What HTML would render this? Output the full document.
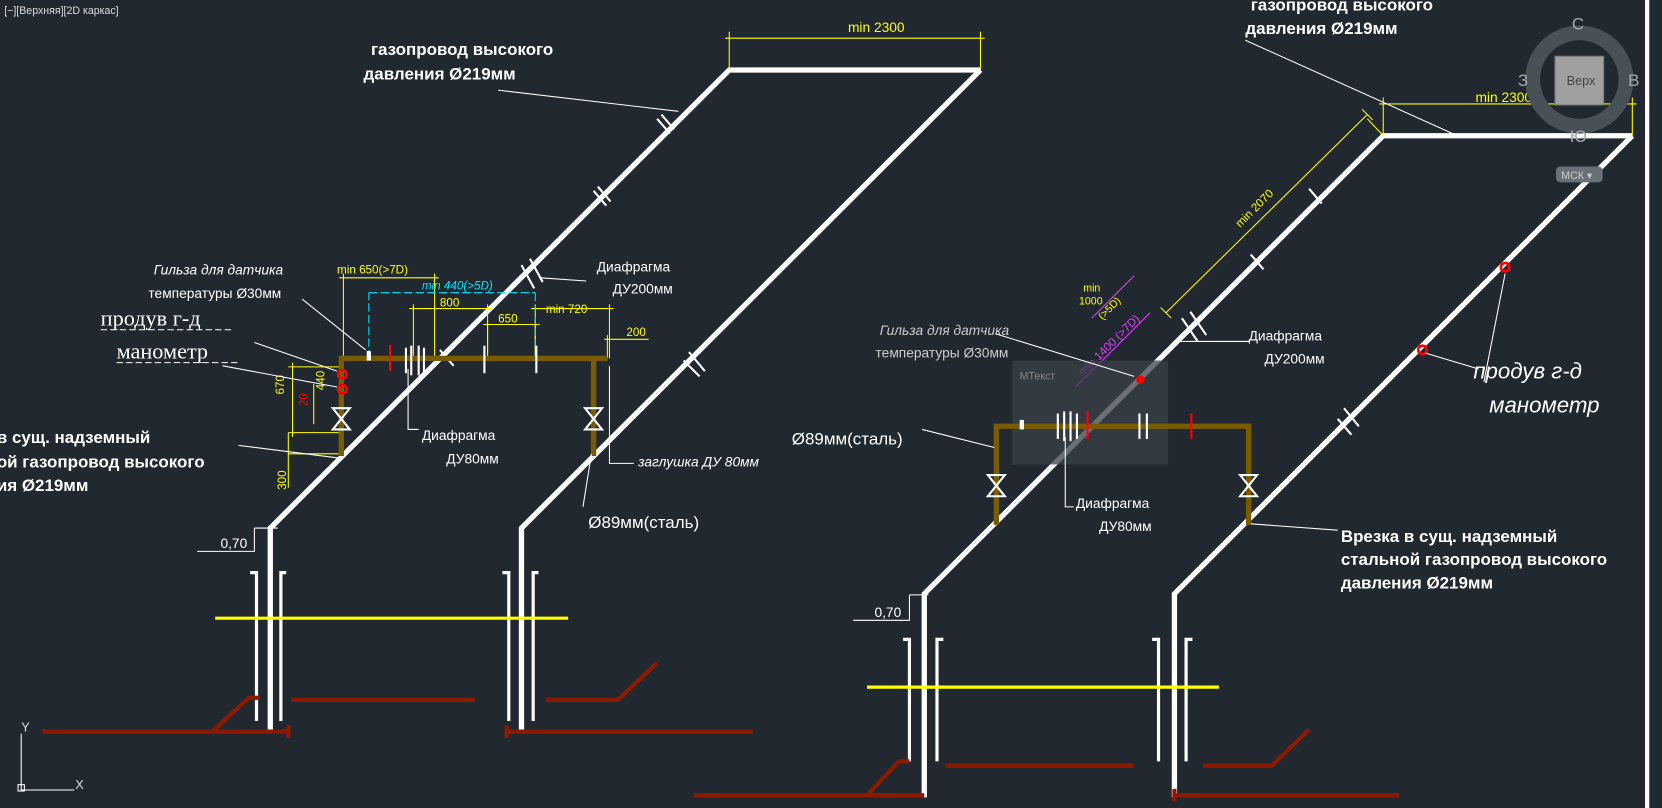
<!DOCTYPE html>
<html><head><meta charset="utf-8"><style>
html,body{margin:0;padding:0;background:#212830;overflow:hidden}
svg{display:block}
text{font-family:"Liberation Sans",sans-serif;fill:#fff}
.b{font-weight:bold;font-size:16px}
.y{fill:#ffff00;font-size:11px}
.w13{font-size:13px}
.it{font-style:italic}
.ser{font-family:"Liberation Serif",serif;font-size:21px}
</style></head><body>
<svg width="1662" height="808" viewBox="0 0 1568 762" preserveAspectRatio="none" xmlns="http://www.w3.org/2000/svg">
<rect width="1568" height="762" fill="#212830"/>
<text x="4" y="13" style="font-size:10px;fill:#ddd">[−][Верхняя][2D каркас]</text>

<!-- LEFT -->
<g fill="none" stroke="#fff" stroke-width="5" stroke-linejoin="miter">
<path d="M255,690 V498 L688,66 H925"/>
<path d="M492,690 V498 L925,66"/>
</g>
<g stroke="#fff" stroke-width="2">
<line x1="620" y1="112" x2="632" y2="126"/><line x1="624" y1="108" x2="636" y2="122"/>
<line x1="560" y1="180" x2="572" y2="194"/><line x1="564" y1="176" x2="576" y2="190"/>
<line x1="492" y1="250" x2="504" y2="272"/><line x1="500" y1="244" x2="512" y2="266"/>
<line x1="645" y1="340" x2="660" y2="355"/><line x1="650" y1="332" x2="665" y2="350"/>
<line x1="415" y1="330" x2="428" y2="345"/>
</g>
<g stroke="#ffff00" stroke-width="1" fill="none">
<path d="M688,66 V30 M925,66 V30 M684,36 H929"/>
<path d="M324,338 V258 M410,338 V258 M320,262 H414"/>
<path d="M390,338 V287 M460,338 V287 M386,291 H464"/>
<path d="M460,338 V302 M505,338 V302 M456,306 H509"/>
<path d="M505,338 V287 M575,338 V287 M501,291 H579"/>
<path d="M573,338 V316 M612,320 H570"/>
<path d="M272,346 H322 M272,408 H322 M276,342 V412 M296,362 V400 M272,408 V460 M272,428 H322"/>
</g>
<path d="M348,338 V276 M348,276 H505 M505,276 V338" stroke="#00e5ff" stroke-width="1" fill="none" stroke-dasharray="8,3"/>
<text x="800" y="30" class="y" style="font-size:13px">min 2300</text>
<text x="318" y="258" class="y">min 650(&gt;7D)</text>
<text x="398" y="273" style="fill:#00e5ff;font-size:11px;font-style:italic">min 440(&gt;5D)</text>
<text x="415" y="289" class="y">800</text>
<text x="470" y="304" class="y">650</text>
<text x="515" y="295" class="y">min 720</text>
<text x="591" y="317" class="y">200</text>
<text x="268" y="372" class="y" transform="rotate(-90 268 372)">670</text>
<text x="306" y="368" class="y" transform="rotate(-90 306 368)">440</text>
<text x="290" y="383" style="fill:red;font-size:11px" transform="rotate(-90 290 383)">20</text>
<text x="270" y="462" class="y" transform="rotate(-90 270 462)">300</text>

<g fill="none" stroke="#7a5c00" stroke-width="5"><path d="M322,430 V338 H573"/><path d="M560,338 V430"/></g>
<g stroke="#fff" stroke-width="2" fill="none">
<path d="M314,385 L330,405 H314 L330,385 Z"/><path d="M552,385 L568,405 H552 L568,385 Z"/>
<path d="M383,328 V352 M388,326 V354 M395,326 V354 M400,328 V352 M457,326 V352 M506,326 V352"/>
</g>
<rect x="346" y="331" width="4" height="9" fill="#fff"/>
<line x1="368" y1="325" x2="368" y2="350" stroke="red" stroke-width="2"/>
<circle cx="323" cy="353" r="4" fill="none" stroke="red" stroke-width="2.5"/>
<circle cx="323" cy="367" r="4" fill="none" stroke="red" stroke-width="2.5"/>
<g stroke="#fff" stroke-width="1" fill="none">
<path d="M470,85 L640,105"/><path d="M285,282 L345,330"/><path d="M240,323 L318,350"/><path d="M210,345 L318,365"/>
<path d="M225,420 L320,432"/><path d="M553,265 L510,262"/><path d="M385,348 V405 H395"/><path d="M575,345 V437 H598"/><path d="M558,428 L550,478"/>
</g>
<text x="145" y="259" class="w13 it">Гильза для датчика</text>
<text x="140" y="281" class="w13">температуры Ø30мм</text>
<text x="95" y="307" class="ser">продув г-д</text>
<text x="110" y="338" class="ser">манометр</text>
<line x1="95" y1="311" x2="220" y2="311" stroke="#fff" stroke-dasharray="6,3"/>
<line x1="110" y1="342" x2="225" y2="342" stroke="#fff" stroke-dasharray="6,3"/>
<text x="563" y="256" class="w13">Диафрагма</text><text x="578" y="277" class="w13">ДУ200мм</text>
<text x="398" y="415" class="w13">Диафрагма</text><text x="421" y="437" class="w13">ДУ80мм</text>
<text x="602" y="440" class="w13 it">заглушка ДУ 80мм</text>
<text x="555" y="498" style="font-size:16px">Ø89мм(сталь)</text>
<text x="350" y="52" class="b">газопровод высокого</text>
<text x="343" y="75" class="b">давления Ø219мм</text>
<text x="-3" y="418" class="b">в сущ. надземный</text>
<text x="-3" y="441" class="b">ой газопровод высокого</text>
<text x="-3" y="463" class="b">ия Ø219мм</text>
<text x="208" y="517" class="w13">0,70</text>
<path d="M186,520 H240 V498 M240,498 H262" stroke="#fff" stroke-width="1" fill="none"/>
<g stroke="#fff" stroke-width="3" fill="none">
<path d="M236,540 H242 V680"/><path d="M270,540 H265 V680"/><path d="M474,540 H480 V680"/><path d="M508,540 H503 V680"/>
</g>
<line x1="203" y1="583" x2="536" y2="583" stroke="#ffff00" stroke-width="3"/>
<g stroke="#8b1a00" stroke-width="4" fill="none">
<path d="M40,690 H272 M272,684 V696"/><path d="M200,690 L235,658 H245"/><path d="M275,660 H448"/>
<path d="M478,690 H710 M478,684 V696"/><path d="M515,660 H583 L620,625"/>
</g>
<g stroke="#fff" stroke-width="1" fill="none"><path d="M20,692 V745 H70"/><rect x="17" y="740" width="6" height="6"/></g>
<text x="20" y="690" style="font-size:12px;fill:#ddd">Y</text>
<text x="71" y="744" style="font-size:12px;fill:#ddd">X</text>

<!-- RIGHT -->
<g fill="none" stroke="#fff" stroke-width="5">
<path d="M872,752 V560 L1305,128 H1540"/>
<path d="M1108,752 V560 L1540,128"/>
</g>
<g stroke="#fff" stroke-width="2">
<line x1="1235" y1="178" x2="1247" y2="192"/><line x1="1180" y1="240" x2="1192" y2="254"/>
<line x1="1115" y1="300" x2="1130" y2="322"/><line x1="1123" y1="294" x2="1138" y2="316"/>
<line x1="1262" y1="395" x2="1275" y2="410"/><line x1="1268" y1="385" x2="1282" y2="402"/>
</g>
<g stroke="#ffff00" stroke-width="1" fill="none">
<path d="M1305,128 V92 M1540,128 V92 M1301,98 H1544"/>
<path d="M1100,295 L1290,108 M1095,290 L1105,300 M1285,103 L1295,113 M1305,128 L1290,112"/>
</g>
<text x="1392" y="96" class="y" style="font-size:13px">min 2300</text>
<text x="1170" y="215" class="y" transform="rotate(-45 1170 215)">min 2070</text>
<text x="1022" y="275" style="fill:#ffff00;font-size:10px">min</text>
<text x="1018" y="287" style="fill:#ffff00;font-size:10px">1000</text>
<text x="1040" y="302" style="fill:#ffff00;font-size:10px" transform="rotate(-45 1040 302)">(&gt;5D)</text>
<text x="1022" y="355" style="fill:#e040fb;font-size:11px" transform="rotate(-45 1022 355)">min 1400 (&gt;7D)</text>
<path d="M1030,300 L1070,260 M1015,365 L1085,295" stroke="#e040fb" stroke-width="1"/>
<rect x="955" y="340" width="147" height="98" fill="#3a4048" opacity="0.75"/>
<text x="962" y="358" style="font-size:10px;fill:#888">МТекст</text>
<g fill="none" stroke="#7a5c00" stroke-width="5"><path d="M940,495 V402 H1178 V495"/></g>
<g stroke="#fff" stroke-width="2" fill="none">
<path d="M932,448 L948,468 H932 L948,448 Z"/><path d="M1170,448 L1186,468 H1170 L1186,448 Z"/>
<path d="M998,390 V414 M1004,388 V416 M1010,388 V416 M1016,390 V414 M1075,390 V414 M1082,390 V414"/>
</g>
<rect x="962" y="396" width="4" height="9" fill="#fff"/>
<line x1="1026" y1="388" x2="1026" y2="414" stroke="red" stroke-width="2"/>
<line x1="1124" y1="390" x2="1124" y2="414" stroke="red" stroke-width="2"/>
<circle cx="1076" cy="358" r="4" fill="red"/>
<circle cx="1420" cy="252" r="4" fill="none" stroke="red" stroke-width="2.5"/>
<circle cx="1342" cy="330" r="4" fill="none" stroke="red" stroke-width="2.5"/>
<g stroke="#fff" stroke-width="1" fill="none">
<path d="M1175,38 L1375,128"/><path d="M870,405 L938,422"/><path d="M1005,412 V478 H1013"/>
<path d="M1178,322 L1110,322"/><path d="M1262,500 L1180,494"/><path d="M1395,348 L1345,333"/><path d="M1400,360 L1420,258"/>
<path d="M940,315 L1070,355"/>
</g>
<text x="1180" y="10" class="b">газопровод высокого</text>
<text x="1175" y="32" class="b">давления Ø219мм</text>
<text x="1178" y="321" class="w13">Диафрагма</text><text x="1193" y="343" class="w13">ДУ200мм</text>
<text x="830" y="316" class="w13 it" style="fill:#ccc">Гильза для датчика</text>
<text x="826" y="337" class="w13" style="fill:#ccc">температуры Ø30мм</text>
<text x="747" y="419" style="font-size:16px">Ø89мм(сталь)</text>
<text x="1015" y="479" class="w13">Диафрагма</text><text x="1037" y="501" class="w13">ДУ80мм</text>
<text x="1265" y="511" class="b">Врезка в сущ. надземный</text>
<text x="1265" y="533" class="b">стальной газопровод высокого</text>
<text x="1265" y="555" class="b">давления Ø219мм</text>
<text x="1390" y="357" style="font-size:21px;font-style:italic">продув г-д</text>
<text x="1405" y="389" style="font-size:21px;font-style:italic">манометр</text>
<text x="825" y="582" class="w13">0,70</text>
<path d="M805,585 H858 V561 M858,561 H876" stroke="#fff" stroke-width="1" fill="none"/>
<g stroke="#fff" stroke-width="3" fill="none">
<path d="M852,603 H858 V718"/><path d="M890,603 H884 V718"/><path d="M1087,603 H1093 V718"/><path d="M1125,603 H1119 V718"/>
</g>
<line x1="818" y1="648" x2="1150" y2="648" stroke="#ffff00" stroke-width="3"/>
<g stroke="#8b1a00" stroke-width="4" fill="none">
<path d="M655,750 H872"/><path d="M818,750 L848,718 H858"/><path d="M892,722 H1070"/>
<path d="M1108,750 H1320 M1108,744 V756"/><path d="M1135,722 H1200 L1235,688"/>
</g>

<!-- nav cube -->
<circle cx="1490" cy="75" r="44" fill="none" stroke="#4a5058" stroke-width="14"/>
<rect x="1467" y="53" width="46" height="46" fill="#a0a0a0" stroke="#777"/>
<text x="1478" y="80" style="font-size:12px;fill:#444">Верх</text>
<text x="1483" y="28" style="font-size:16px;fill:#aaa">С</text>
<text x="1432" y="81" style="font-size:16px;fill:#aaa">З</text>
<text x="1536" y="81" style="font-size:16px;fill:#aaa">В</text>
<text x="1481" y="134" style="font-size:16px;fill:#aaa">Ю</text>
<rect x="1468" y="157" width="44" height="15" rx="4" fill="#6a7078"/>
<text x="1473" y="169" style="font-size:10px;fill:#ccc">МСК ▾</text>
<rect x="1552" y="0" width="4" height="762" fill="#fff"/>
</svg>
</body></html>
